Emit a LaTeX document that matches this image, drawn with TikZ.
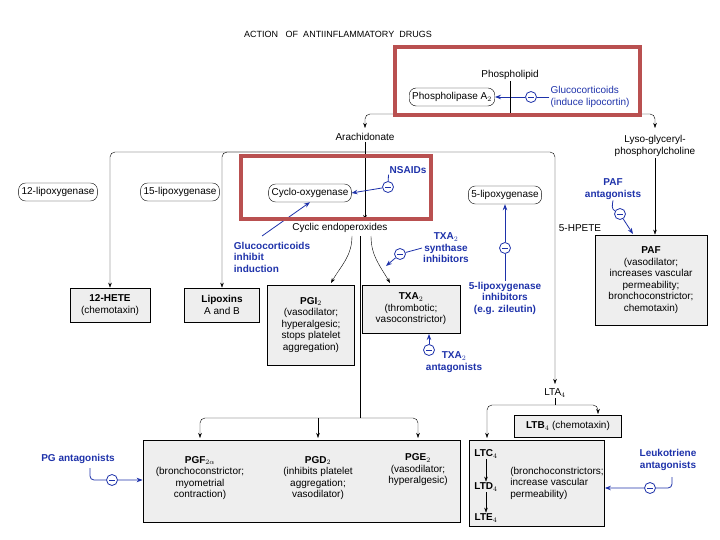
\documentclass[tikz,border=0pt]{standalone}
\usepackage{fontspec}
\setmainfont{Liberation Sans}
\usetikzlibrary{arrows.meta}
\definecolor{dblue}{RGB}{30,50,170}
\definecolor{redbox}{RGB}{185,80,80}
\definecolor{boxfill}{RGB}{238,238,238}
\newcommand{\fs}{\fontsize{10}{11.5}\selectfont}
\begin{document}
\begin{tikzpicture}[x=1pt,y=-1pt,
  every node/.style={font=\fs, inner sep=1pt},
  enz/.style={draw, rounded corners=7pt, minimum height=18pt, inner sep=3pt},
  box/.style={draw, fill=boxfill, thick, align=center, inner sep=2pt, font=\fs},
  bl/.style={text=dblue, align=center, font=\fs\bfseries},
  arr/.style={-{Stealth[length=5pt,width=3.5pt]}, rounded corners=5pt},
  barr/.style={dblue, thick, -{Stealth[length=6pt,width=4.5pt]}, rounded corners=4pt},
  minus/.style={draw=dblue, thick, circle, inner sep=0pt, minimum size=11pt, fill=white,
    path picture={\draw[dblue,thick] ([xshift=-3pt]path picture bounding box.center) -- ([xshift=3pt]path picture bounding box.center);}},
  red/.style={draw=redbox, line width=3.5pt}]
\useasboundingbox (0,0) rectangle (720,540);
\node[font=\fontsize{9}{10}\selectfont] (title) at (338,34) {ACTION \ \ OF \ ANTIINFLAMMATORY \ DRUGS};
\node[font=\fontsize{9}{10}\selectfont] (foot) at (272,510) {( by \ Rang \ et \ all., \ \ PHARMACOLOGY, \ \ 1999)};
% top
\node (pl) at (510,75) {Phospholipid};
\node[enz] (pla) at (452,97) {Phospholipase A$_2$};
\node[bl,font=\fs,align=left] (gc1) at (590,97) {Glucocorticoids\\(induce lipocortin)};
\node[minus] (m1) at (531,97) {};
\draw[barr] (gc1.west) -- (m1) -- (pla.east);
\coordinate (tj) at (510,114);
\draw (pl.south) -- (tj);
\node (ara) at (365,137) {Arachidonate};
\node[align=center] (lyso) at (655,146) {Lyso-glyceryl-\\phosphorylcholine};
\draw[arr] (tj) -| (365,128);
\draw[arr] (tj) -| (655,128);
% enzymes
\node[enz] (l12) at (58,192) {12-lipoxygenase};
\node[enz] (l15) at (180,192) {15-lipoxygenase};
\node[enz] (cox) at (310,193) {Cyclo-oxygenase};
\node[enz] (l5) at (505,195) {5-lipoxygenase};
\node (cyc) at (340,228) {Cyclic endoperoxides};
\node (hpete) at (580,228) {5-HPETE};
\coordinate (hj) at (365,152);
\draw (ara.south) -- (hj);
\node (h12) [box, minimum width=80pt, minimum height=34pt] at (110,305) {\textbf{12-HETE}\\(chemotaxin)};
\node (lip) [box, minimum width=75pt, minimum height=34pt] at (222,305) {\textbf{Lipoxins}\\A and B};
\draw[arr] (hj) -| (h12.north);
\draw[arr] (hj) -| (lip.north);
\draw[arr] (hj) -- (365,220);
\node (lta4) at (555,393) {LTA$_4$};
\draw[arr] (hj) -| (555,384);
% cox branch
\node (pgi) [box, minimum width=87pt, minimum height=80pt] at (311,325) {\textbf{PGI$_2$}\\(vasodilator;\\hyperalgesic;\\stops platelet\\aggregation)};
\node (txa) [box, minimum width=98pt, minimum height=48pt] at (411,309) {\textbf{TXA$_2$}\\(thrombotic;\\vasoconstrictor)};
\draw[arr] (352,236) to[out=-90,in=60] (331,283);
\draw[arr] (371,236) to[out=-90,in=120] (390,283);
\coordinate (pj) at (360,418);
\draw (360,236) -- (pj);
\node (pg) [box, minimum width=317pt, minimum height=82pt] at (301.5,481) {};
\node[align=center] (pgf) at (200,478) {\textbf{PGF$_{2\alpha}$}\\(bronchoconstrictor;\\myometrial\\contraction)};
\node[align=center] (pgd) at (318,478) {\textbf{PGD$_2$}\\(inhibits platelet\\aggregation;\\vasodilator)};
\node[align=center] (pge) at (418,470) {\textbf{PGE$_2$}\\(vasodilator;\\hyperalgesic)};
\draw[arr] (pj) -| (200,438);
\draw[arr] (pj) -| (418,438);
\draw[arr] (318,418) -- (318,438);
% LT branch
\node (ltb) [box, minimum width=107pt, minimum height=22pt] at (568,426) {\textbf{LTB$_4$} (chemotaxin)};
\node (lt) [box, minimum width=135pt, minimum height=86pt] at (537,483) {};
\node[font=\fs\bfseries] (ltc) at (486,454) {LTC$_4$};
\node[font=\fs\bfseries] (ltd) at (486,487) {LTD$_4$};
\node[font=\fs\bfseries] (lte) at (486,518) {LTE$_4$};
\draw[arr] (ltc) -- (ltd);
\draw[arr] (ltd) -- (lte);
\node[align=left] (ltt) at (557,483) {(bronchoconstrictors;\\increase vascular\\permeability)};
\coordinate (lj) at (555,405);
\draw (lta4.south) -- (lj);
\draw[arr] (lj) -| (487,438);
\draw[arr] (lj) -| (598,414);
% PAF
\node (paf) [box, minimum width=112pt, minimum height=90pt] at (651,280) {\textbf{PAF}\\(vasodilator;\\increases vascular\\permeability;\\bronchoconstrictor;\\chemotaxin)};
\draw[arr] (lyso.south) -- (paf.north -| lyso.south);
% drugs
\node[bl] (nsaid) at (408,170) {NSAIDs};
\node[minus] (m2) at (388,187) {};
\draw[barr] (nsaid.south west) -- (m2) -- (cox.east);
\node[bl,align=left] (gc2) at (272,257) {Glucocorticoids\\inhibit\\induction};
\draw[barr] (262,236) -- (cox.south);
\node[bl,align=center] (tsi) at (446,248) {TXA$_2$\\synthase\\inhibitors};
\node[minus] (m3) at (400,254) {};
\draw[barr] (tsi.west) -- (m3) -- (386,266);
\node[bl] (lpi) at (505,298) {5-lipoxygenase\\inhibitors\\(e.g. zileutin)};
\node[minus] (m4) at (505,248) {};
\draw[barr] (lpi.north) -- (m4) -- (l5.south);
\node[bl] (pafa) at (613,189) {PAF\\antagonists};
\node[minus] (m5) at (620,214) {};
\draw[barr] (pafa.south) to[out=-100,in=150] (m5) -- (633,234);
\node[bl,align=center] (txaa) at (454,362) {TXA$_2$\\antagonists};
\node[minus] (m6) at (429,350) {};
\draw[barr] (m6) -- (429,334);
\node[bl] (pga) at (78,459) {PG antagonists};
\node[minus] (m7) at (112,480) {};
\draw[barr] (90,468) |- (m7) -- (pg.west |- m7);
\node[bl] (lka) at (668,460) {Leukotriene\\antagonists};
\node[minus] (m8) at (650,488) {};
\draw[barr] (672,477) |- (m8) -- (lt.east |- m8);
% red boxes
\draw[red] (395,47) rectangle (640,115);
\draw[red] (241,156) rectangle (431,219);
\end{tikzpicture}
\end{document}
